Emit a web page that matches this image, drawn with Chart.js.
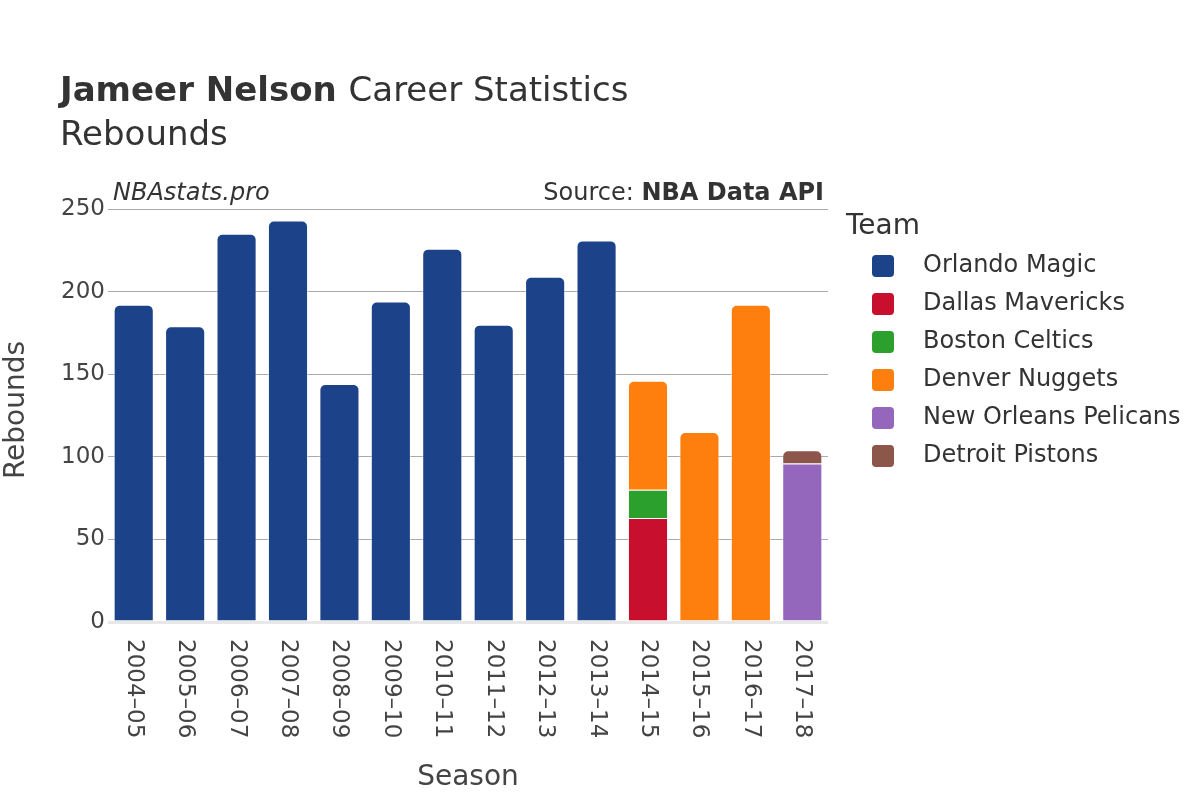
<!DOCTYPE html>
<html><head><meta charset="utf-8">
<script src="https://cdn.jsdelivr.net/npm/chart.js@4"></script>
<style>html,body{margin:0;padding:0;background:#fff}#wrap{width:1200px;height:800px;position:relative}</style>
</head><body><div id="wrap"><canvas id="c" width="1200" height="800"></canvas></div>
<script>
const seasons = ["2004–05","2005–06","2006–07","2007–08","2008–09","2009–10","2010–11","2011–12","2012–13","2013–14","2014–15","2015–16","2016–17","2017–18"];
const teams = ["Orlando Magic","Dallas Mavericks","Boston Celtics","Denver Nuggets","New Orleans Pelicans","Detroit Pistons"];
const colors = ["#1c4389","#c8102e","#2ca02c","#ff7f0e","#9467bd","#8c564b"];
const orlando  = [192,179,235,243,144,194,226,180,209,231,null,null,null,null];
const dallas   = [null,null,null,null,null,null,null,null,null,null,63,null,null,null];
const boston   = [null,null,null,null,null,null,null,null,null,null,17,null,null,null];
const denver   = [null,null,null,null,null,null,null,null,null,null,66,115,192,null];
const pelicans = [null,null,null,null,null,null,null,null,null,null,null,null,null,96];
const pistons  = [null,null,null,null,null,null,null,null,null,null,null,null,null,8];
const yTicks = [0,50,100,150,200,250];

const series = [orlando,dallas,boston,denver,pelicans,pistons];
const FONT = "'DejaVu Sans', sans-serif";
const TXT = "#444";

const overlay = {
  id:'overlay',
  afterDraw(chart){
    const ctx = chart.ctx;
    const xs = chart.scales.x;
    ctx.save();
    // x tick labels rotated clockwise
    ctx.fillStyle = TXT;
    ctx.font = "23px " + FONT;
    ctx.textBaseline = 'middle';
    ctx.textAlign = 'left';
    seasons.forEach((s,i)=>{
      const x = xs.getPixelForTick(i);
      ctx.save();
      ctx.translate(x, chart.chartArea.bottom + 17);
      ctx.rotate(Math.PI/2);
      ctx.fillText(s,0,0);
      ctx.restore();
    });
    // title
    ctx.textBaseline = 'alphabetic';
    ctx.fillStyle = "#333";
    ctx.font = "bold 34px " + FONT;
    ctx.fillText("Jameer Nelson", 60, 101);
    const w = ctx.measureText("Jameer Nelson ").width;
    ctx.font = "34px " + FONT;
    ctx.fillText("Career Statistics", 60 + w, 101);
    ctx.fillText("Rebounds", 60, 145);
    // annotations
    ctx.font = "italic 24px " + FONT;
    ctx.fillText("NBAstats.pro", 113, 200);
    ctx.font = "bold 24px " + FONT;
    ctx.textAlign = 'right';
    ctx.fillText("NBA Data API", 824, 200);
    const bw = ctx.measureText("NBA Data API").width;
    ctx.font = "24px " + FONT;
    ctx.fillText("Source: ", 824 - bw, 200);
    // axis titles
    ctx.textAlign = 'center';
    ctx.textBaseline = 'middle';
    ctx.fillStyle = TXT;
    ctx.font = "28px " + FONT;
    ctx.fillText("Season", 468, 778);
    ctx.save();
    ctx.translate(17, 410);
    ctx.rotate(-Math.PI/2);
    ctx.fillText("Rebounds", 0, 0);
    ctx.restore();
    // legend
    ctx.textAlign = 'left';
    ctx.fillStyle = "#333";
    ctx.font = "28px " + FONT;
    ctx.fillText("Team", 846, 227);
    ctx.font = "24px " + FONT;
    teams.forEach((t,i)=>{
      const y = 266 + i*38;
      ctx.fillStyle = colors[i];
      ctx.beginPath();
      ctx.roundRect(872, y-11, 22, 22, 4);
      ctx.fill();
      ctx.fillStyle = "#333";
      ctx.fillText(t, 923, y);
    });
    ctx.restore();
  }
};

new Chart(document.getElementById('c'), {
  type:'bar',
  data:{
    labels: seasons,
    datasets: teams.map((t,i)=>({
      label:t, data:series[i], backgroundColor:colors[i],
      borderColor:'rgba(255,255,255,0.55)', borderWidth:1,
      borderRadius:6, borderSkipped:'bottom',
      barPercentage:0.78, categoryPercentage:1.0
    }))
  },
  options:{
    responsive:false, animation:false, devicePixelRatio:1,
    layout:{padding:{left:0,right:372,top:209,bottom:0}},
    plugins:{legend:{display:false}, title:{display:false}, tooltip:{enabled:false}},
    scales:{
      x:{stacked:true, ticks:{display:false}, grid:{display:false}, border:{display:false},
         afterFit(s){ s.height = 178; }},
      y:{stacked:true, min:0, max:250,
         afterBuildTicks(s){ s.ticks = yTicks.map(v=>({value:v})); },
         ticks:{color:TXT, font:{family:FONT,size:23}, padding:3},
         grid:{color:(c)=> c.tick && c.tick.value===0 ? '#e8e8e8' : '#aaa',
               lineWidth:(c)=> c.tick && c.tick.value===0 ? 3 : 1, drawTicks:false},
         border:{display:false},
         afterFit(s){ s.width = 108; }}
    }
  },
  plugins:[overlay]
});
</script></body></html>
